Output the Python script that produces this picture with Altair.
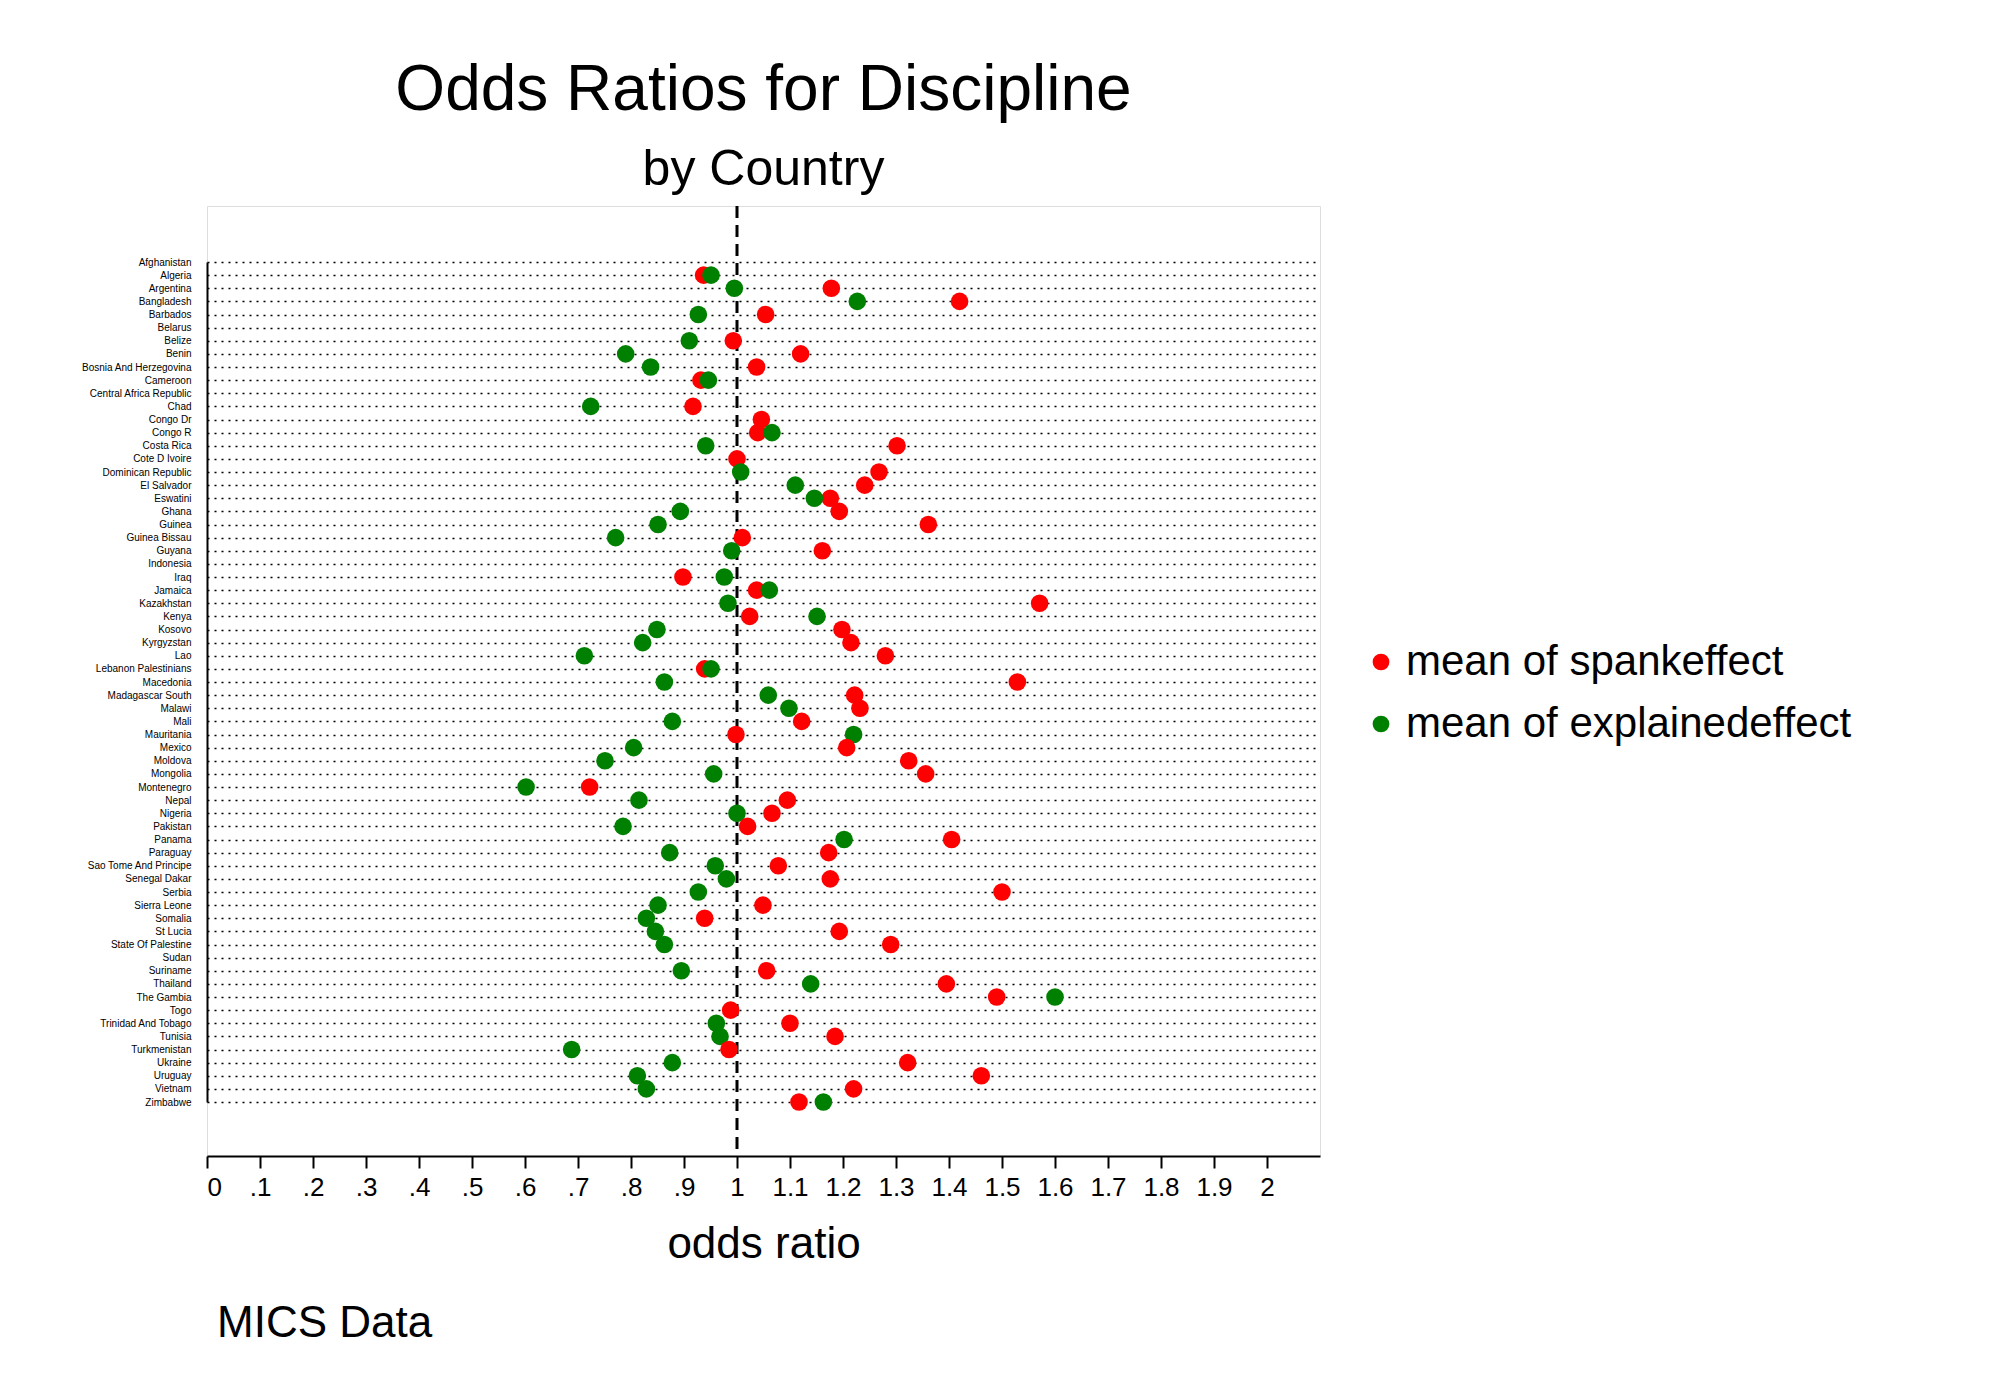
import altair as alt
import pandas as pd

countries = [
    "Afghanistan", "Algeria", "Argentina", "Bangladesh", "Barbados", "Belarus", "Belize", "Benin",
    "Bosnia And Herzegovina", "Cameroon", "Central Africa Republic", "Chad", "Congo Dr", "Congo R",
    "Costa Rica", "Cote D Ivoire", "Dominican Republic", "El Salvador", "Eswatini", "Ghana", "Guinea",
    "Guinea Bissau", "Guyana", "Indonesia", "Iraq", "Jamaica", "Kazakhstan", "Kenya", "Kosovo",
    "Kyrgyzstan", "Lao", "Lebanon Palestinians", "Macedonia", "Madagascar South", "Malawi", "Mali",
    "Mauritania", "Mexico", "Moldova", "Mongolia", "Montenegro", "Nepal", "Nigeria", "Pakistan",
    "Panama", "Paraguay", "Sao Tome And Principe", "Senegal Dakar", "Serbia", "Sierra Leone",
    "Somalia", "St Lucia", "State Of Palestine", "Sudan", "Suriname", "Thailand", "The Gambia",
    "Togo", "Trinidad And Tobago", "Tunisia", "Turkmenistan", "Ukraine", "Uruguay", "Vietnam",
    "Zimbabwe",
]
spank = [
    None, 0.937, 1.178, 1.42, 1.054, None, 0.993, 1.12, 1.037, 0.932, None, 0.917, 1.046, 1.039,
    1.302, 1.0, 1.268, 1.241, 1.176, 1.193, 1.361, 1.01, 1.161, None, 0.898, 1.037, 1.571, 1.024,
    1.198, 1.215, 1.28, 0.939, 1.529, 1.222, 1.232, 1.122, 0.998, 1.207, 1.324, 1.356, 0.722,
    1.095, 1.066, 1.02, 1.405, 1.173, 1.078, 1.176, 1.5, 1.049, 0.939, 1.193, 1.29, None, 1.056,
    1.395, 1.49, 0.988, 1.1, 1.185, 0.985, 1.322, 1.461, 1.22, 1.117,
]
explained = [
    None, 0.951, 0.995, 1.227, 0.927, None, 0.91, 0.79, 0.837, 0.946, None, 0.724, None, 1.066,
    0.941, None, 1.007, 1.11, 1.146, 0.893, 0.851, 0.771, 0.99, None, 0.976, 1.061, 0.983, 1.151,
    0.849, 0.822, 0.712, 0.951, 0.863, 1.059, 1.098, 0.878, 1.22, 0.805, 0.751, 0.956, 0.602,
    0.815, 1.0, 0.785, 1.202, 0.873, 0.959, 0.98, 0.927, 0.851, 0.829, 0.846, 0.863, None, 0.895,
    1.139, 1.6, None, 0.961, 0.968, 0.688, 0.878, 0.812, 0.829, 1.163,
]
series_names = ["mean of spankeffect", "mean of explainedeffect"]
tick_values = [i / 10 for i in range(21)]

rows = []
for c, s, e in zip(countries, spank, explained):
    rows.append({"country": c, "series": series_names[0], "value": s})
    rows.append({"country": c, "series": series_names[1], "value": e})
df = pd.DataFrame(rows)

W, H = 1113, 950
font = "Liberation Sans"

y_enc = alt.Y(
    "country:N", sort=countries, title=None,
    scale=alt.Scale(type="point", domain=countries, range=[56, H - 54], padding=0),
    axis=alt.Axis(labelFontSize=10, labelFont=font, labelColor="black", ticks=False, labelPadding=16,
                  domainColor="black", domainWidth=2, grid=True, gridDash=[2, 5],
                  gridColor="black", gridWidth=1.5),
)
x_scale = alt.Scale(domain=[0, 2.1], nice=False, zero=False)
x_axis = alt.Axis(values=tick_values, title="odds ratio", titleFontSize=44, titleFont=font,
                  titleFontWeight="normal", titlePadding=22,
                  labelExpr="datum.value == 0 ? '0' : datum.value >= 1 ? format(datum.value, '.2~f') : replace(format(datum.value, '.1f'), '0.', '.')",
                  labelFontSize=26, labelFont=font, labelColor="black", labelPadding=6,
                  tickColor="black", tickSize=12, tickWidth=2, domainColor="black", domainWidth=2,
                  grid=False, labelOverlap=False)

points = alt.Chart(df.dropna()).mark_circle(size=310, opacity=1).encode(
    x=alt.X("value:Q", scale=x_scale, axis=x_axis),
    y=y_enc,
    color=alt.Color("series:N", sort=series_names, title=None,
                    scale=alt.Scale(domain=series_names, range=["#ff0000", "#008000"]),
                    legend=alt.Legend(orient="none", legendX=W + 40, legendY=H / 2 - 40,
                                      labelFontSize=42, labelFont=font,
                                      symbolSize=280, symbolType="circle", rowPadding=20,
                                      labelLimit=800, padding=0)),
)

ref = alt.Chart(pd.DataFrame({"x": [1.0]})).mark_rule(
    color="black", strokeWidth=3, strokeDash=[12, 7]
).encode(x=alt.X("x:Q", scale=x_scale))

note = alt.Chart(pd.DataFrame({"t": ["MICS Data"]})).mark_text(
    align="left", baseline="middle", fontSize=44, font=font, color="black"
).encode(text="t:N", x=alt.value(10), y=alt.value(H + 168))

chart = alt.layer(ref, points, note).properties(
    width=W, height=H,
    padding={"left": 72, "top": 50, "right": 40, "bottom": 30},
    title=alt.TitleParams("Odds Ratios for Discipline", subtitle="by Country", fontSize=64,
                          subtitleFontSize=50, font=font, subtitleFont=font, fontWeight="normal",
                          color="black", subtitleColor="black", anchor="middle", frame="group",
                          subtitlePadding=22, offset=10),
).configure_view(stroke=None).configure(background="white")

chart.save("out.html", embed_options={"renderer": "svg", "actions": False})
